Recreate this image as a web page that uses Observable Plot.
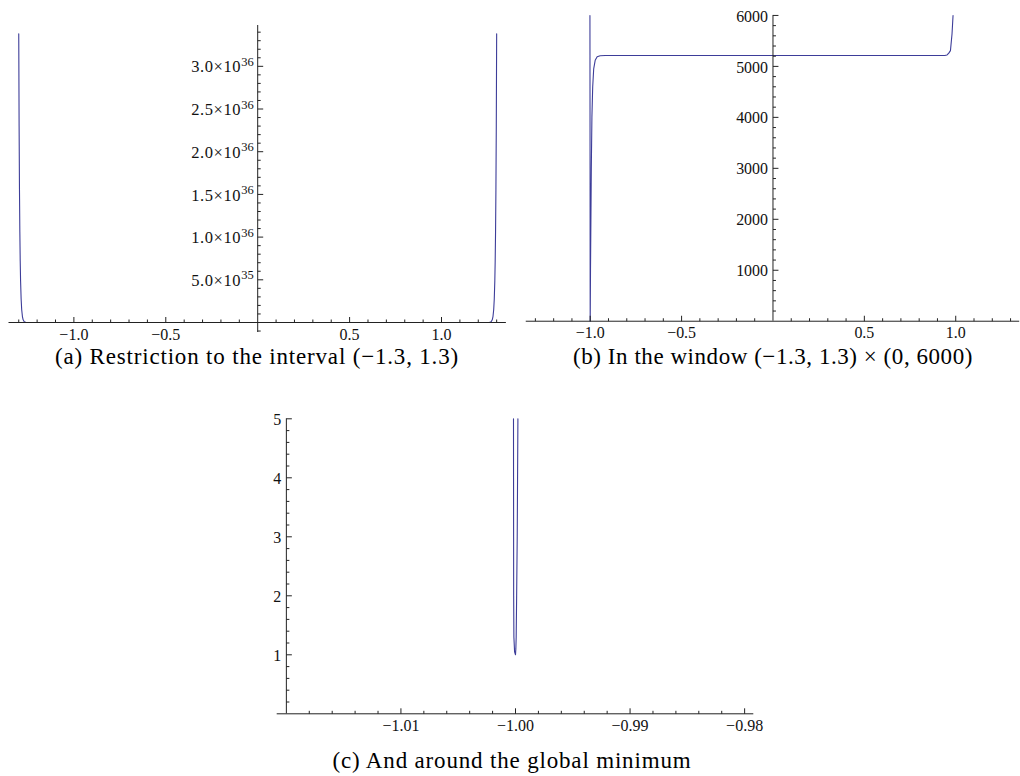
<!DOCTYPE html>
<html>
<head>
<meta charset="utf-8">
<script src="https://cdn.jsdelivr.net/npm/d3@7"></script>
<script src="https://cdn.jsdelivr.net/npm/@observablehq/plot@0.6"></script>
<style>
  html, body { margin: 0; padding: 0; background: #fff; }
  body { width: 1020px; height: 776px; overflow: hidden; position: relative; }
  .panel { position: absolute; }
  .cap { position: absolute; font-family: "Liberation Serif", "Times New Roman", serif; font-size: 23px; line-height: 23px;
         white-space: nowrap; color: #000; }
</style>
</head>
<body>
<div id="pa" class="panel" style="left:0px;top:0px"></div>
<div id="pb" class="panel" style="left:512px;top:0px"></div>
<div id="pc" class="panel" style="left:240px;top:380px"></div>
<div class="cap" data-c="257" data-w="404" style="top:345px">(a) Restriction to the interval (−1.3, 1.3)</div>
<div class="cap" data-c="773" data-w="400" style="top:345px">(b) In the window (−1.3, 1.3) × (0, 6000)</div>
<div class="cap" data-c="512" data-w="359" style="top:749px">(c) And around the global minimum</div>
<script>
// ---------- data ----------
// (a) whole interval
const aX = [-1.300, -1.298, -1.296, -1.294, -1.292, -1.290, -1.287, -1.284, -1.280, -1.276, -1.270, -1.260,
             1.260, 1.270, 1.276, 1.280, 1.284, 1.287, 1.290, 1.292, 1.294, 1.296, 1.298, 1.300];
const aY = [3.38e36, 2.30e36, 1.56e36, 1.06e36, 0.72e36, 0.49e36, 0.275e36, 0.152e36, 0.070e36, 0.032e36, 0.0098e36, 0,
            0, 0.0098e36, 0.032e36, 0.070e36, 0.152e36, 0.275e36, 0.49e36, 0.72e36, 1.06e36, 1.56e36, 2.30e36, 3.38e36];
// (b) window (0, 6000)
const bX = [-1.0015, -1.0008, -1.0002, -1.0000, -0.9984, -0.9962, -0.9940, -0.9907, -0.9864, -0.9810, -0.9728,
            -0.9620, -0.9455, -0.9180, 0.0, 0.9400, 0.9526, 0.9620, 0.9711, 0.9798, 0.9853];
const bY = [6000, 3000, 5, 1, 1000, 2000, 3000, 4000, 4600, 4950, 5120,
            5190, 5210, 5215, 5215, 5215, 5224, 5260, 5310, 5640, 6000];
// (c) around the global minimum
const cX = [-1.000175, -1.000170, -1.000165, -1.000160, -1.000140, -1.000080, -1.000000,
            -0.999970, -0.999940, -0.999900, -0.999850, -0.999820, -0.999790];
const cY = [5.0, 4.0, 3.0, 2.0, 1.3, 1.05, 1.0, 1.1, 1.3, 2.0, 3.0, 4.0, 5.0];

// ---------- ticks ----------
const aXMajor = [-1.0, -0.5, 0.5, 1.0];
const aXLabels = ["−1.0", "−0.5", "0.5", "1.0"];
const aXMinor = [-1.3, -1.2, -1.1, -0.9, -0.8, -0.7, -0.6, -0.4, -0.3, -0.2, -0.1,
                 0.1, 0.2, 0.3, 0.4, 0.6, 0.7, 0.8, 0.9, 1.1, 1.2, 1.3];
const aYMajor = [5e35, 1e36, 1.5e36, 2e36, 2.5e36, 3e36];
const aYLabels = ["5.0×10^35", "1.0×10^36", "1.5×10^36", "2.0×10^36", "2.5×10^36", "3.0×10^36"];
const aYMinor = [-1e35, 1e35, 2e35, 3e35, 4e35, 6e35, 7e35, 8e35, 9e35, 1.1e36, 1.2e36, 1.3e36, 1.4e36,
                 1.6e36, 1.7e36, 1.8e36, 1.9e36, 2.1e36, 2.2e36, 2.3e36, 2.4e36, 2.6e36, 2.7e36, 2.8e36, 2.9e36,
                 3.1e36, 3.2e36, 3.3e36, 3.4e36];

const bXMajor = aXMajor, bXLabels = aXLabels, bXMinor = aXMinor;
const bYMajor = [1000, 2000, 3000, 4000, 5000, 6000];
const bYLabels = ["1000", "2000", "3000", "4000", "5000", "6000"];
const bYMinor = [200, 400, 600, 800, 1200, 1400, 1600, 1800, 2200, 2400, 2600, 2800, 3200, 3400, 3600, 3800,
                 4200, 4400, 4600, 4800, 5200, 5400, 5600, 5800];

const cXMajor = [-1.01, -1.00, -0.99, -0.98];
const cXLabels = ["−1.01", "−1.00", "−0.99", "−0.98"];
const cXMinor = [-1.018, -1.016, -1.014, -1.012, -1.008, -1.006, -1.004, -1.002, -0.998, -0.996, -0.994, -0.992,
                 -0.988, -0.986, -0.984, -0.982];
const cYMajor = [1, 2, 3, 4, 5];
const cYLabels = ["1", "2", "3", "4", "5"];
const cYMinor = [0.2, 0.4, 0.6, 0.8, 1.2, 1.4, 1.6, 1.8, 2.2, 2.4, 2.6, 2.8, 3.2, 3.4, 3.6, 3.8, 4.2, 4.4, 4.6, 4.8];

// ---------- style ----------
const curveColor = "#3d3d99";
const axisColor = "#222";
const font = "Liberation Serif";

const tickUp = { draw(ctx, size) { const l = Math.sqrt(size / Math.PI); ctx.moveTo(0, 0); ctx.lineTo(0, -l); } };
const tickRight = { draw(ctx, size) { const l = Math.sqrt(size / Math.PI); ctx.moveTo(0, 0); ctx.lineTo(l, 0); } };

function panel(o) {
  const pts = o.cx.map((x, i) => ({ x, y: o.cy[i] }));
  const xl = o.xMajor.map((v, i) => ({ v, t: o.xLabels[i] }));
  const yl = o.yMajor.map((v, i) => ({ v, t: o.yLabels[i] }));
  const svg = Plot.plot({
    width: o.width, height: o.height,
    marginLeft: o.ml, marginRight: o.mr, marginTop: o.mt, marginBottom: o.mb,
    x: { domain: o.xDomain, axis: null },
    y: { domain: o.yDomain, axis: null },
    style: { background: "white", overflow: "visible", fontFamily: font },
    marks: [
      Plot.line(pts, { x: "x", y: "y", stroke: curveColor, strokeWidth: 1.1 }),
      Plot.ruleY([o.xAxisAt], { stroke: axisColor, strokeWidth: 1 }),
      Plot.ruleX([o.yAxisAt], { stroke: axisColor, strokeWidth: 1 }),
      Plot.dot(o.xMajor, { x: d => d, y: o.xAxisAt, r: 5.5, symbol: tickUp, stroke: axisColor, fill: "none", strokeWidth: 1 }),
      Plot.dot(o.xMinor, { x: d => d, y: o.xAxisAt, r: 3, symbol: tickUp, stroke: axisColor, fill: "none", strokeWidth: 1 }),
      Plot.dot(o.yMajor, { x: o.yAxisAt, y: d => d, r: 5.5, symbol: tickRight, stroke: axisColor, fill: "none", strokeWidth: 1 }),
      Plot.dot(o.yMinor, { x: o.yAxisAt, y: d => d, r: 3, symbol: tickRight, stroke: axisColor, fill: "none", strokeWidth: 1 }),
      Plot.text(xl, { x: "v", y: o.xAxisAt, text: "t", dy: o.xdy, textAnchor: "middle", fontSize: 16, fontFamily: font, fill: "#111" }),
      Plot.text(yl, { x: o.yAxisAt, y: "v", text: "t", dx: o.ydx, dy: 1, textAnchor: "end", fontSize: 16, fontFamily: font, fill: "#111" })
    ]
  });
  // superscripts for the "×10^n" labels
  svg.querySelectorAll("text").forEach(t => {
    const m = t.textContent.match(/^(.*)\^(\d+)$/);
    if (m) {
      while (t.firstChild) t.removeChild(t.firstChild);
      const ns = "http://www.w3.org/2000/svg";
      const a = document.createElementNS(ns, "tspan"); a.textContent = m[1];
      a.setAttribute("font-size", "16.5"); a.setAttribute("letter-spacing", "0.6");
      const b = document.createElementNS(ns, "tspan"); b.textContent = m[2];
      b.setAttribute("dy", "-6.5"); b.setAttribute("font-size", "12.5");
      t.appendChild(a); t.appendChild(b);
    }
  });
  document.getElementById(o.id).appendChild(svg);
}

panel({ id: "pa", width: 512, height: 345, ml: 8.5, mr: 6.1, mt: 25, mb: 13,
  xDomain: [-1.353, 1.353], yDomain: [-1.171e35, 3.478e36], cx: aX, cy: aY, xAxisAt: 0, yAxisAt: 0,
  xMajor: aXMajor, xLabels: aXLabels, xMinor: aXMinor, yMajor: aYMajor, yLabels: aYLabels, yMinor: aYMinor,
  xdy: 12, ydx: -4 });

panel({ id: "pb", width: 510, height: 345, ml: 13.8, mr: 0.8, mt: 15, mb: 23,
  xDomain: [-1.35, 1.35], yDomain: [0, 6000], cx: bX, cy: bY, xAxisAt: 0, yAxisAt: 0,
  xMajor: bXMajor, xLabels: bXLabels, xMinor: bXMinor, yMajor: bYMajor, yLabels: bYLabels, yMinor: bYMinor,
  xdy: 12, ydx: -5 });

panel({ id: "pc", width: 530, height: 365, ml: 36.7, mr: 16.7, mt: 38.3, mb: 31.7,
  xDomain: [-1.0208, -0.9792], yDomain: [0, 5], cx: cX, cy: cY, xAxisAt: 0, yAxisAt: -1.02,
  xMajor: cXMajor, xLabels: cXLabels, xMinor: cXMinor, yMajor: cYMajor, yLabels: cYLabels, yMinor: cYMinor,
  xdy: 12.5, ydx: -5 });

// fit captions to the widths they have in the figure
document.querySelectorAll(".cap").forEach(el => {
  const target = +el.dataset.w, center = +el.dataset.c;
  const w0 = el.getBoundingClientRect().width;
  const n = el.textContent.length;
  el.style.letterSpacing = ((target - w0) / n).toFixed(2) + "px";
  const w1 = el.getBoundingClientRect().width;
  el.style.left = (center - w1 / 2) + "px";
});
</script>
</body>
</html>
